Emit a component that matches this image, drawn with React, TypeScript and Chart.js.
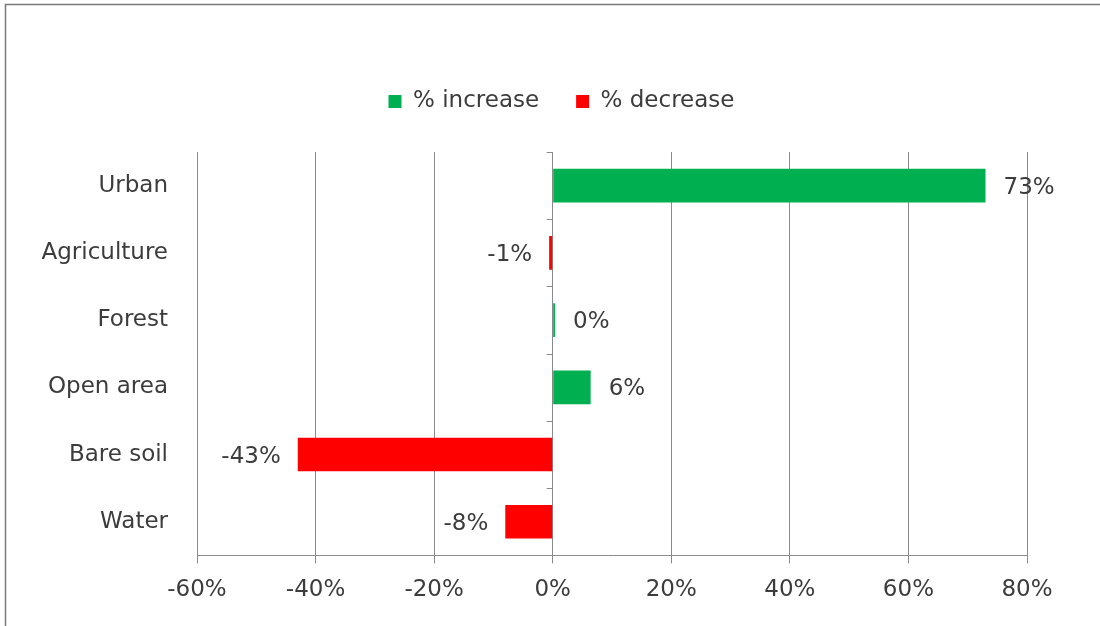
import { useEffect, useRef } from "react";
import { Chart, registerables } from "chart.js";

Chart.register(...registerables);

const categories = ["Urban", "Agriculture", "Forest", "Open area", "Bare soil", "Water"];
const increase = [73, null, 0.4, 6.4, null, null];
const decrease = [null, -0.6, null, null, -43, -8];
const xMin = -60;
const xMax = 80;
const xStep = 20;

const FONT = "'DejaVu Sans', sans-serif";
const TEXT = "#3c3c3c";
const GRID = "#8a8a8a";
const SIZE = 23;

// value labels at the end of each bar
const valueLabels = {
  id: "valueLabels",
  afterDatasetsDraw(chart: any) {
    const ctx = chart.ctx;
    ctx.save();
    ctx.font = `${SIZE}px ${FONT}`;
    ctx.fillStyle = TEXT;
    ctx.textBaseline = "middle";
    chart.data.datasets.forEach((ds: any, di: number) => {
      chart.getDatasetMeta(di).data.forEach((bar: any, i: number) => {
        const v = ds.data[i];
        if (v == null) return;
        const label = Math.round(v) + "%";
        if (v >= 0) {
          ctx.textAlign = "left";
          ctx.fillText(label, bar.x + 18, bar.y + 2);
        } else {
          ctx.textAlign = "right";
          ctx.fillText(label, bar.x - 17, bar.y + 2);
        }
      });
    });
    ctx.restore();
  },
};

// small category tick marks on the zero line
const zeroTicks = {
  id: "zeroTicks",
  afterDatasetsDraw(chart: any) {
    const ctx = chart.ctx;
    const x0 = chart.scales.x.getPixelForValue(0);
    const y = chart.scales.y;
    ctx.save();
    ctx.strokeStyle = GRID;
    ctx.lineWidth = 1;
    ctx.beginPath();
    for (let i = 0; i <= categories.length; i++) {
      const py = Math.round(y.getPixelForValue(i - 0.5)) + 0.5;
      ctx.moveTo(x0 - 6, py);
      ctx.lineTo(x0, py);
    }
    ctx.stroke();
    ctx.restore();
  },
};

// outer frame (only top and left edges are inside the picture)
const frame = {
  id: "frame",
  beforeDraw(chart: any) {
    const ctx = chart.ctx;
    ctx.save();
    ctx.strokeStyle = "#7a7a7a";
    ctx.lineWidth = 1.5;
    ctx.beginPath();
    ctx.moveTo(5.5, chart.height);
    ctx.lineTo(5.5, 4.5);
    ctx.lineTo(chart.width, 4.5);
    ctx.stroke();
    ctx.restore();
  },
};

// extra room under the legend, and legend shifted a little right
const legendGap = {
  id: "legendGap",
  beforeInit(chart: any) {
    const fit = chart.legend.fit;
    chart.legend.fit = function () {
      fit.bind(chart.legend)();
      this.height += 29;
    };
  },
  afterLayout(chart: any) {
    chart.legend.left += 48;
    chart.legend.right += 48;
  },
};

const LandCoverChart = () => {
  const chartRef = useRef<HTMLCanvasElement>(null);

  useEffect(() => {
    if (!chartRef.current) return;

    const chart = new Chart(chartRef.current, {
      type: "bar",
      data: {
        labels: categories,
        datasets: [
          {
            label: "% increase",
            data: increase,
            backgroundColor: "#00b050",
            categoryPercentage: 1,
            barPercentage: 0.5,
          },
          {
            label: "% decrease",
            data: decrease,
            backgroundColor: "#ff0000",
            categoryPercentage: 1,
            barPercentage: 0.5,
          },
        ],
      },
      options: {
        indexAxis: "y",
        responsive: true,
        maintainAspectRatio: false,
        animation: false,
        layout: {
          padding: { top: 53, right: 73, bottom: 9, left: 0 },
        },
        scales: {
          x: {
            stacked: true,
            min: xMin,
            max: xMax,
            ticks: {
              stepSize: xStep,
              color: TEXT,
              padding: 13,
              font: { family: FONT, size: SIZE },
              callback: (v: any) => `${v}%`,
            },
            grid: { color: GRID, tickLength: 8 },
            border: { display: true, color: GRID },
          },
          y: {
            stacked: true,
            ticks: {
              color: TEXT,
              padding: 29,
              font: { family: FONT, size: SIZE },
            },
            grid: { display: false, drawTicks: false },
            border: { display: false },
            afterFit: (scale: any) => {
              scale.width = 197;
            },
          },
        },
        plugins: {
          legend: {
            position: "top",
            labels: {
              color: TEXT,
              boxWidth: 13,
              boxHeight: 13,
              padding: 37,
              font: { family: FONT, size: SIZE },
            },
          },
          tooltip: { enabled: false },
        },
      },
      plugins: [frame, legendGap, valueLabels, zeroTicks],
    });

    return () => {
      chart.destroy();
    };
  }, []);

  return (
    <div style={{ position: "relative", width: "1100px", height: "626px", background: "#fff" }}>
      <canvas ref={chartRef} />
    </div>
  );
};

export default function App() {
  useEffect(() => {
    document.body.style.margin = "0";
  }, []);
  return <LandCoverChart />;
}
